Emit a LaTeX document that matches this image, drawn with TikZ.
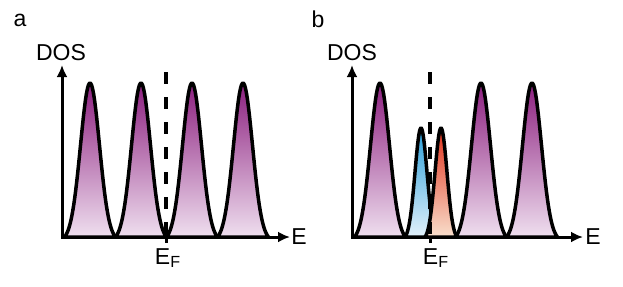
\documentclass[tikz,border=0pt]{standalone}
\usepackage{fontspec}
\setmainfont{Liberation Sans}
\usetikzlibrary{arrows.meta}
\definecolor{plum}{HTML}{8C1F7F}
\definecolor{plummid}{HTML}{A0409A}
\definecolor{plumlight}{HTML}{EFDFEF}
\definecolor{sky}{HTML}{2A9ED8}
\definecolor{skylight}{HTML}{E2F1FB}
\definecolor{rust}{HTML}{E0321C}
\definecolor{rustlight}{HTML}{F9DFCC}

% one DOS peak: centre, half width, height, sigma, fill style
\newcommand{\dospeak}[5]{%
  \pgfmathsetmacro{\pkedge}{exp(-(#2)*(#2)/(2*(#4)*(#4)))}
  \draw[peak,#5] plot[variable=\t,domain=-#2:#2,samples=71,smooth]
    ({#1+\t},{237-#3*(exp(-(\t)*(\t)/(2*(#4)*(#4)))-\pkedge)/(1-\pkedge)}) -- cycle;
}

\begin{document}
\begin{tikzpicture}[x=0.5pt,y=-0.5pt,font=\fontsize{11.5}{13}\selectfont,
    peak/.style={line width=1.75pt,line join=round},
    purplepk/.style={top color=plum,middle color=plummid,bottom color=plumlight},
    bluepk/.style={top color=sky,bottom color=skylight},
    redpk/.style={top color=rust,bottom color=rustlight},
    axis/.style={line width=1.5pt,{Latex[length=6pt,width=5.5pt]}-{Latex[length=6pt,width=5.5pt]}},
    fermi/.style={line width=1.6pt,dash pattern=on 6pt off 6.5pt}]
  \useasboundingbox (0,0) rectangle (623,286);

  % panel a
  \foreach \c in {90,141,192,243} {\dospeak{\c}{25.5}{154}{9.5}{purplepk}}
  \coordinate (oA) at (62,237);
  \coordinate (yA) at (62,65);
  \coordinate (xA) at (290,237);
  \coordinate (fA) at (166,237);
  \coordinate (tA) at (166,72);
  \draw[fermi] (tA) -- (fA);
  \draw[axis] (yA) -- (oA) -- (xA);
  \draw[line width=1.5pt] (fA) -- ++(0,6);
  \node (labA) at (20,20) {a};
  \node (dosA) at (61,53) {DOS};
  \node (eA) at (299,237) {E};
  \node (efA) at (168,258) {E\textsubscript{F}};

  % panel b
  \foreach \c in {380,481,532} {\dospeak{\c}{25.5}{154}{9.5}{purplepk}}
  \dospeak{421}{16}{109}{6}{bluepk}
  \dospeak{441}{16}{109}{6}{redpk}
  \coordinate (oB) at (352,237);
  \coordinate (yB) at (352,65);
  \coordinate (xB) at (583,237);
  \coordinate (fB) at (430,237);
  \coordinate (tB) at (430,72);
  \draw[fermi] (tB) -- (fB);
  \draw[axis] (yB) -- (oB) -- (xB);
  \draw[line width=1.5pt] (fB) -- ++(0,6);
  \node (labB) at (318,19) {b};
  \node (dosB) at (352,53) {DOS};
  \node (eB) at (593,237) {E};
  \node (efB) at (436,258) {E\textsubscript{F}};
\end{tikzpicture}
\end{document}
